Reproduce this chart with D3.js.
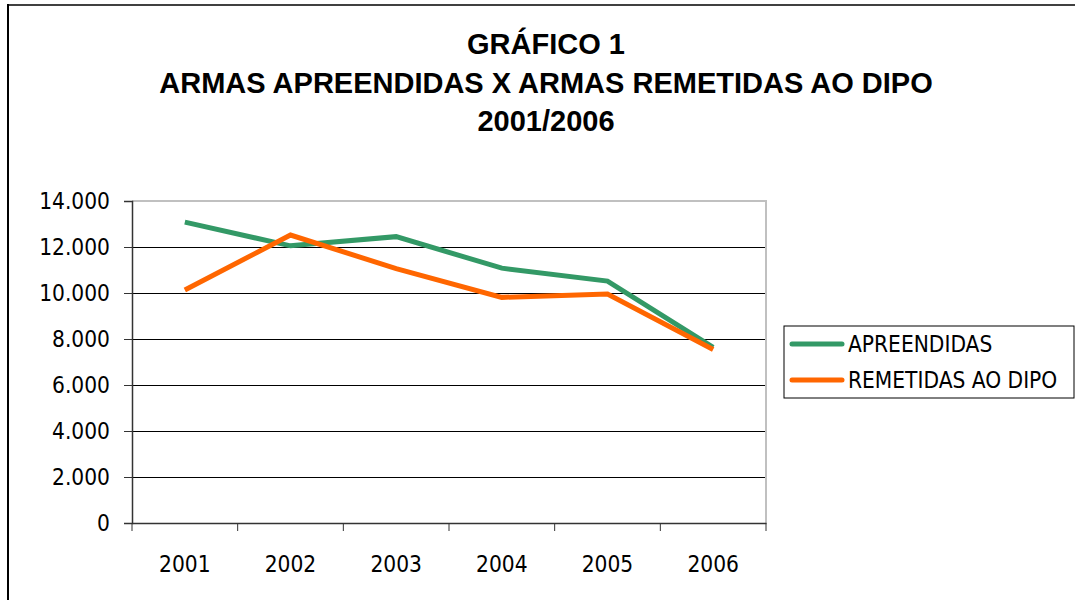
<!DOCTYPE html>
<html>
<head>
<meta charset="utf-8">
<script src="https://cdn.jsdelivr.net/npm/d3@7"></script>
<style>
  body { margin: 0; background: #fff; }
  svg { display: block; }
  .tick-lbl { font-family: "DejaVu Sans Condensed", "DejaVu Sans", sans-serif; font-size: 22.5px; fill: #000; }
  .title { font-family: "Liberation Sans", Arial, sans-serif; font-weight: bold; font-size: 29px; fill: #000; }
</style>
</head>
<body>
<div id="chart"></div>
<script>
// dados
var anos = ["2001", "2002", "2003", "2004", "2005", "2006"];
var apreendidas = [13080, 12050, 12450, 11080, 10520, 7640];
var remetidas = [10130, 12520, 11060, 9810, 9960, 7540];
var yTicks = [0, 2000, 4000, 6000, 8000, 10000, 12000, 14000];
var seriesNames = ["APREENDIDAS", "REMETIDAS AO DIPO"];
var seriesColors = ["#339966", "#ff6600"];
var titleLines = ["GRÁFICO 1", "ARMAS APREENDIDAS X ARMAS REMETIDAS AO DIPO", "2001/2006"];

var W = 1075, H = 600;
var plot = {left: 132, right: 766, top: 201, bottom: 523};

var svg = d3.select("#chart").append("svg")
    .attr("width", W)
    .attr("height", H);

// moldura do gráfico
svg.append("line").attr("x1", 8).attr("x2", W).attr("y1", 5).attr("y2", 5)
    .attr("stroke", "#404040").attr("stroke-width", 2);
svg.append("line").attr("x1", 8).attr("x2", 8).attr("y1", 4).attr("y2", H)
    .attr("stroke", "#000").attr("stroke-width", 2);

// título
svg.selectAll("text.title")
    .data(titleLines)
    .enter()
    .append("text")
    .attr("class", "title")
    .attr("x", 546)
    .attr("y", function(d, i){ return 54 + i * 38.5 })
    .attr("text-anchor", "middle")
    .text(function(d){ return d });

// escalas
var x = d3.scaleBand().domain(anos).range([plot.left, plot.right]);
var y = d3.scaleLinear().domain([0, 14000]).range([plot.bottom, plot.top]);

// grade
svg.append("g")
    .selectAll("line")
    .data(yTicks.filter(function(d){ return d > 0 && d < 14000 }))
    .enter()
    .append("line")
    .attr("x1", plot.left).attr("x2", plot.right)
    .attr("y1", function(d){ return y(d) }).attr("y2", function(d){ return y(d) })
    .attr("stroke", "#000").attr("stroke-width", 1)
    .attr("shape-rendering", "crispEdges");

// borda da área de plotagem (cinza)
svg.append("path")
    .attr("d", "M" + plot.left + "," + plot.top + "H" + plot.right + "V" + plot.bottom)
    .attr("fill", "none").attr("stroke", "#c0c0c0").attr("stroke-width", 2);

// eixo Y
var yAxis = svg.append("g")
    .attr("transform", "translate(" + plot.left + ",0)")
    .call(d3.axisLeft(y)
        .tickValues(yTicks)
        .tickSize(8)
        .tickPadding(14)
        .tickFormat(function(d){ return d3.format(",")(d).replace(/,/g, ".") }));
yAxis.select(".domain").attr("stroke", "#333").attr("stroke-width", 1.5);
yAxis.selectAll(".tick line").attr("stroke", "#333");
yAxis.selectAll("text").attr("class", "tick-lbl").attr("font-size", null).attr("font-family", null);

// eixo X
var xAxis = svg.append("g")
    .attr("transform", "translate(0," + plot.bottom + ")")
    .call(d3.axisBottom(x).tickSize(0).tickPadding(0).tickFormat(""));
xAxis.select(".domain").attr("stroke", "#333").attr("stroke-width", 1.5);
xAxis.selectAll(".tick").remove();

// marcas entre categorias
svg.append("g")
    .selectAll("line")
    .data(anos.concat(["fim"]))
    .enter()
    .append("line")
    .attr("x1", function(d, i){ return plot.left + i * x.step() })
    .attr("x2", function(d, i){ return plot.left + i * x.step() })
    .attr("y1", plot.bottom).attr("y2", plot.bottom + 8)
    .attr("stroke", "#333").attr("stroke-width", 1);

svg.append("g")
    .selectAll("text")
    .data(anos)
    .enter()
    .append("text")
    .attr("class", "tick-lbl")
    .attr("x", function(d){ return x(d) + x.bandwidth()/2 })
    .attr("y", 572)
    .attr("text-anchor", "middle")
    .text(function(d){ return d });

// linhas
var line = d3.line()
    .x(function(d, i){ return x(anos[i]) + x.bandwidth()/2 })
    .y(function(d){ return y(d) });

[apreendidas, remetidas].forEach(function(s, i){
    svg.append("path")
        .datum(s)
        .attr("d", line)
        .attr("fill", "none")
        .attr("stroke", seriesColors[i])
        .attr("stroke-width", 5)
        .attr("stroke-linejoin", "miter");
});

// legenda
var legend = svg.append("g").attr("transform", "translate(784,326)");
legend.append("rect")
    .attr("width", 290).attr("height", 72)
    .attr("fill", "#fff").attr("stroke", "#000").attr("stroke-width", 1);

var items = legend.selectAll("g.item")
    .data(seriesNames)
    .enter()
    .append("g")
    .attr("transform", function(d, i){ return "translate(0," + (18 + i * 36) + ")" });

items.append("line")
    .attr("x1", 8).attr("x2", 58)
    .attr("stroke", function(d, i){ return seriesColors[i] })
    .attr("stroke-width", 5)
    .attr("stroke-linecap", "round");

items.append("text")
    .attr("class", "tick-lbl")
    .attr("x", 64)
    .attr("y", 8)
    .text(function(d){ return d });
</script>
</body>
</html>
